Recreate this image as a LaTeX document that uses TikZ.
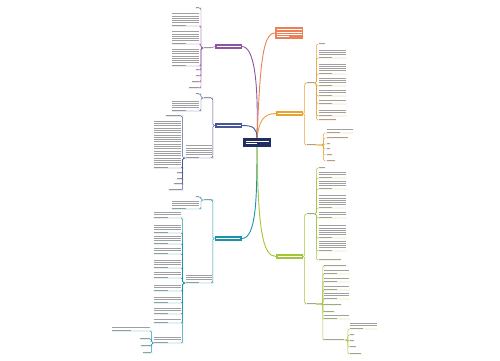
\documentclass[tikz,border=0pt]{standalone}
\definecolor{Core}{RGB}{33,45,94}
\definecolor{Purple}{RGB}{142,84,160}
\definecolor{Coral}{RGB}{235,128,87}
\definecolor{Gold}{RGB}{232,163,51}
\definecolor{NavyB}{RGB}{72,86,150}
\definecolor{Teal}{RGB}{27,146,170}
\definecolor{Lime}{RGB}{164,196,58}
\definecolor{TxtGray}{RGB}{160,160,160}
% n lines of unreadable text, width w
\newcount\lncnt
\newcommand\lns[2]{\vbox{\offinterlineskip\lncnt=0
 \loop\ifnum\lncnt<#1 \advance\lncnt by 1
  \ifnum\lncnt=#1 \ifnum#1>1 \hbox{\rule{.5\dimexpr#2pt\relax}{.6pt}}\else\hbox{\rule{#2pt}{.6pt}}\fi
  \else\hbox{\rule{#2pt}{.6pt}}\fi
  \ifnum\lncnt<#1 \vskip1.7pt\fi
 \repeat}}

\begin{document}
\begin{tikzpicture}[x=1pt,y=-1pt,
 box/.style={fill=#1,text=white,inner xsep=1.5pt,inner ysep=2pt},
 txt/.style={inner sep=.5pt,text=TxtGray},
 br/.style={draw=#1,line width=.9pt},
 lk/.style={draw=#1,line width=.45pt,rounded corners=1.5pt}]
\useasboundingbox (0,0) rectangle (500,360);

% centre and branches
\node[box=Core,inner xsep=2.5pt,inner ysep=3pt] (C) at (257,142.5) {\lns{2}{23}};
\node[box=Purple] (P) at (228.5,46.5) {\lns{1}{24}};
\node[box=Coral] (R) at (289,33) {\lns{4}{25}};
\node[box=Gold] (G) at (289.5,113.5) {\lns{1}{24}};
\node[box=NavyB] (N) at (228.5,125.5) {\lns{1}{24}};
\node[box=Teal] (T) at (228,238.5) {\lns{1}{24}};
\node[box=Lime] (Y) at (289.5,256.5) {\lns{1}{24}};
\draw[br=Purple] (C.north) .. controls (258,100) and (257,47) .. (P.east);
\draw[br=Coral] (C.north) .. controls (260,70) and (262,33) .. (R.west);
\draw[br=Gold] (C.north) .. controls (259,122) and (263,113.5) .. (G.west);
\draw[br=NavyB] (C.north) .. controls (257,128) and (253,125.5) .. (N.east);
\draw[br=Teal] (C.south) .. controls (257,200) and (256,238.5) .. (T.east);
\draw[br=Lime] (C.south) .. controls (258,225) and (262,256.5) .. (Y.west);

% purple
\node[txt,anchor=south west] (pl) at (203,48) {\lns{1}{7}};
\draw[lk=Purple] (P.west) -- (pl.south east) -- (pl.south west);
\foreach \yy/\nl/\ww [count=\i] in {8/1/3,26/6/27,44/6/27,66/8/27,70/1/3,76/1/3,82/1/7,88/1/10}{
 \node[txt,anchor=south east] (pa\i) at (200,\yy) {\lns{\nl}{\ww}};
 \draw[lk=Purple] (pl.south west) -- ++(-2,0) |- (pa\i.south east) -- (pa\i.south west);}

% navy
\node[txt,anchor=south west] (nl) at (203,98) {\lns{1}{7}};
\node[txt,anchor=south east] (np) at (212.5,158) {\lns{6}{26}};
\draw[lk=NavyB] (N.west) -- ++(-2,0) |- (nl.south east) -- (nl.south west);
\draw[lk=NavyB] (N.west) -- ++(-2,0) |- (np.south east) -- (np.south west);
\foreach \yy/\nl/\ww [count=\i] in {94/1/3,111/5/27}{
 \node[txt,anchor=south east] (na\i) at (200,\yy) {\lns{\nl}{\ww}};
 \draw[lk=NavyB] (nl.south west) -- ++(-2,0) |- (na\i.south east) -- (na\i.south west);}
\foreach \yy/\nl/\ww [count=\i] in {116/1/15,168/21/27,173/1/4,179/1/4,184/1/7,190/1/12}{
 \node[txt,anchor=south east] (nb\i) at (182,\yy) {\lns{\nl}{\ww}};
 \draw[lk=NavyB] (np.south west) -- ++(-2.5,0) |- (nb\i.south east) -- (nb\i.south west);}

% teal
\node[txt,anchor=south west] (tl) at (203,200) {\lns{1}{8}};
\node[txt,anchor=south east] (tp) at (212.5,283) {\lns{4}{26}};
\draw[lk=Teal] (T.west) -- ++(-1.5,0) |- (tl.south east) -- (tl.south west);
\draw[lk=Teal] (T.west) -- ++(-1.5,0) |- (tp.south east) -- (tp.south west);
\foreach \yy/\nl/\ww [count=\i] in {197/1/3,209/4/27}{
 \node[txt,anchor=south east] (ta\i) at (200,\yy) {\lns{\nl}{\ww}};
 \draw[lk=Teal] (tl.south west) -- ++(-2,0) |- (ta\i.south east) -- (ta\i.south west);}
\foreach \yy/\nl/\ww [count=\i] in {218/3/27,233/4/27,244/4/27,254/3/27,268/4/27,278/3/27,291/3/27,303/3/27,314/3/27,323/2/27,343/3/27}{
 \node[txt,anchor=south east] (tb\i) at (182,\yy) {\lns{\nl}{\ww}};
 \draw[lk=Teal] (tp.south west) -- ++(-2.5,0) |- (tb\i.south east) -- (tb\i.south west);}
\foreach \yy/\nl/\ww [count=\i] in {331/2/38,339/1/10,346/1/9,353/1/7}{
 \node[txt,anchor=south east] (tc\i) at (151,\yy) {\lns{\nl}{\ww}};
 \draw[lk=Teal] (tb11.south west) -- ++(-2,0) |- (tc\i.south east) -- (tc\i.south west);}

% gold
\node[txt,anchor=south west] (gl1) at (306,83) {\lns{1}{7}};
\node[txt,anchor=south west] (gl2) at (306,145) {\lns{1}{9}};
\draw[lk=Gold] (G.east) -- ++(1.5,0) |- (gl1.south west) -- (gl1.south east);
\draw[lk=Gold] (G.east) -- ++(1.5,0) |- (gl2.south west) -- (gl2.south east);
\foreach \yy/\nl/\ww [count=\i] in {44/1/6,58/4/27,74/5/27,86/4/27,96/3/27,104/2/27,116/3/27,120/1/17}{
 \node[txt,anchor=south west] (ga\i) at (318,\yy) {\lns{\nl}{\ww}};
 \draw[lk=Gold] (gl1.south east) -- ++(2,0) |- (ga\i.south west) -- (ga\i.south east);}
\foreach \yy/\nl/\ww [count=\i] in {133/2/26,138/1/21,144/1/3,149/1/3,155/1/5,161/1/8}{
 \node[txt,anchor=south west] (gb\i) at (326,\yy) {\lns{\nl}{\ww}};
 \draw[lk=Gold] (gl2.south east) -- ++(7,0) |- (gb\i.south west) -- (gb\i.south east);}

% lime
\node[txt,anchor=south west] (yl1) at (306,214) {\lns{1}{7}};
\node[txt,anchor=south west] (yl2) at (306,304) {\lns{1}{9}};
\draw[lk=Lime] (Y.east) -- ++(1.5,0) |- (yl1.south west) -- (yl1.south east);
\draw[lk=Lime] (Y.east) -- ++(1.5,0) |- (yl2.south west) -- (yl2.south east);
\foreach \yy/\nl/\ww [count=\i] in {168/1/6,178/3/27,189/4/27,208/6/27,218/3/27,238/6/27,251/5/27,260/1/22}{
 \node[txt,anchor=south west] (ya\i) at (318,\yy) {\lns{\nl}{\ww}};
 \draw[lk=Lime] (yl1.south east) -- ++(2,0) |- (ya\i.south west) -- (ya\i.south east);}
\foreach \yy/\nl/\ww [count=\i] in {266/1/22,274/2/25,282/2/25,290/2/25,299/3/25,305/1/17,312/1/10,319/2/25,340/1/20}{
 \node[txt,anchor=south west] (yb\i) at (323.5,\yy) {\lns{\nl}{\ww}};
 \draw[lk=Lime] (yl2.south east) -- ++(6.5,0) |- (yb\i.south west) -- (yb\i.south east);}
\foreach \yy/\nl/\ww [count=\i] in {329/3/27,335/1/4,341/1/4,347/1/6,354/1/11}{
 \node[txt,anchor=south west] (yc\i) at (349,\yy) {\lns{\nl}{\ww}};
 \draw[lk=Lime] (yb9.south east) -- ++(3,0) |- (yc\i.south west) -- (yc\i.south east);}
\end{tikzpicture}
\end{document}
